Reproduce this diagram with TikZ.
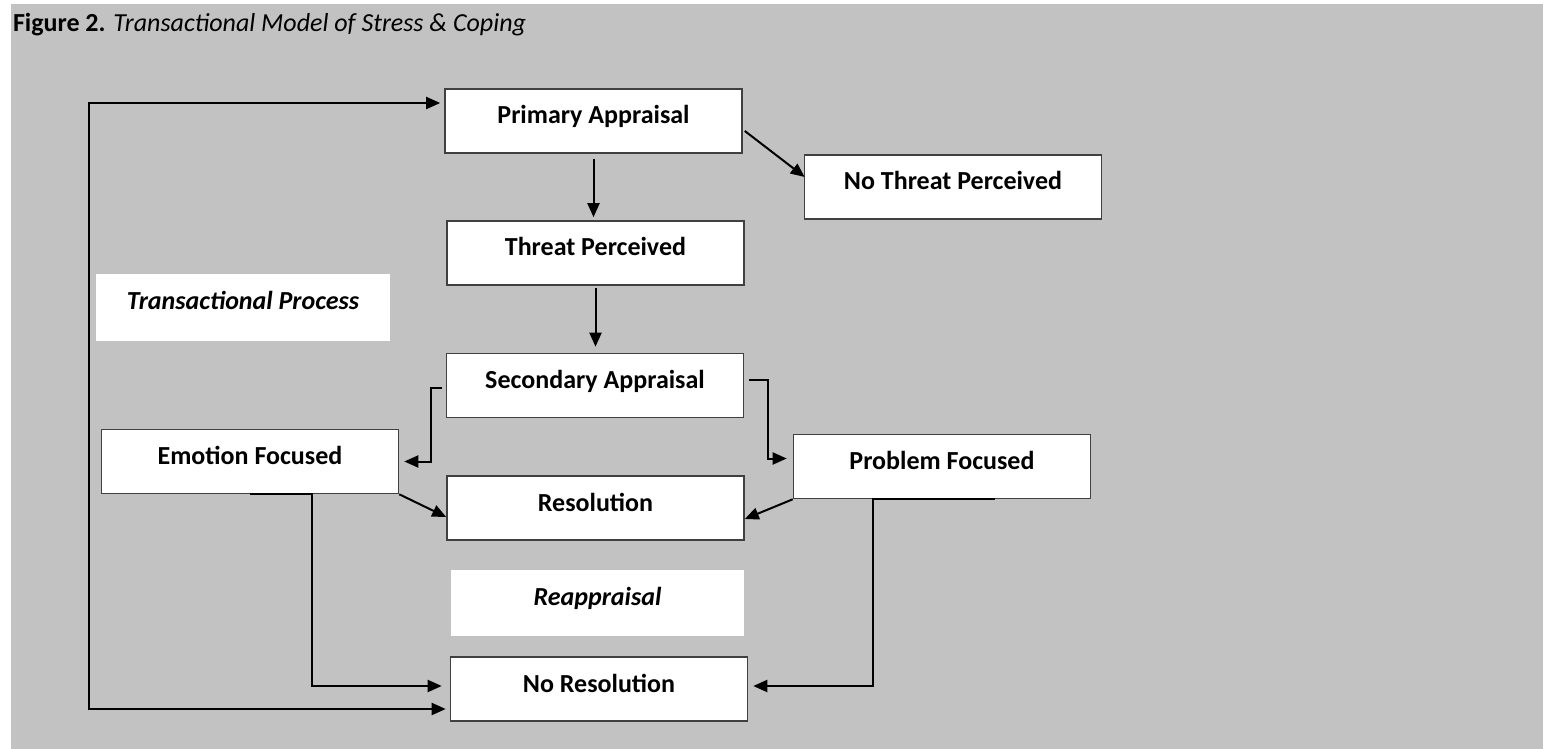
\documentclass[tikz,border=0pt]{standalone}
\usepackage{fontspec}
\setmainfont{Carlito}
\usepackage{xcolor}
\definecolor{panel}{HTML}{C2C2C2}
\usepackage{tikz}
\usetikzlibrary{arrows.meta,calc}
\begin{document}
\begin{tikzpicture}[x=0.5pt,y=-0.5pt,line width=1pt,
    >={Triangle[length=7pt,width=6pt]},
    box/.style={draw=black!75,line width=0.8pt,fill=white,minimum width=148.5pt,minimum height=32pt,
        inner sep=0pt,text height=8pt,text depth=5pt,font=\fontsize{13}{15}\selectfont\bfseries},
    note/.style={fill=white,minimum width=147pt,minimum height=33.5pt,inner sep=0pt,
        text height=8pt,text depth=5.6pt,font=\fontsize{13}{15}\selectfont\bfseries\itshape}]
            \useasboundingbox (0,0) rectangle (1543,749);
            \fill[white] (0,0) rectangle (1543,749);
            \fill[panel] (11,4) rectangle (1543,749);
            \node[anchor=base west,inner sep=0pt,font=\fontsize{13}{15}\selectfont] (0) at (12,32) {\textbf{Figure 2.} \textit{Transactional Model of Stress \& Coping}};
            \node[box] (1) at (593.5,121) {Primary Appraisal};
            \node[box] (2) at (953,187) {No Threat Perceived};
            \node[box] (3) at (595.5,253) {Threat Perceived};
            \node[note] (4) at (243,307.5) {Transactional Process};
            \node[box] (5) at (595,385.5) {Secondary Appraisal};
            \node[box] (6) at (250,461.5) {Emotion Focused};
            \node[box] (7) at (942,466.5) {Problem Focused};
            \node[box] (8) at (595.5,508) {Resolution};
            \node[note,minimum width=146.5pt,minimum height=33pt] (9) at (597.5,603) {Reappraisal};
            \node[box] (10) at (599,689) {No Resolution};
            \coordinate (l) at (89,400);
            \draw[->] ([yshift=-2.5pt]1.south) -- ([yshift=1.5pt]1.south |- 3.north);
            \draw[->] ([xshift=1pt,yshift=-5pt]1.east) -- ([xshift=0.5pt,yshift=5pt]2.west);
            \draw[->] ([yshift=-1pt]3.south) -- ([yshift=3pt]3.south |- 5.north);
            \draw[->] ([xshift=-2pt,yshift=-1pt]5.west) -- ++(-11,0) |- ([xshift=2.5pt]6.east);
            \draw[->] ([xshift=2.5pt,yshift=3pt]5.east) -- ++(19,0) |- ([xshift=-3pt,yshift=4pt]7.west);
            \draw[->] (6.south east) -- ([yshift=-4.5pt]8.west);
            \draw[->] (7.south west) -- ([yshift=-5.5pt]8.east);
            \draw[->] (6.south) -- ([xshift=31pt]6.south) |- ([xshift=-4pt,yshift=1.5pt]10.west);
            \draw[->] ([xshift=26.5pt]7.south) -- ([xshift=-34.5pt]7.south) |- ([xshift=2.5pt,yshift=1.5pt]10.east);
            \draw[<->] ([xshift=-2pt,yshift=9pt]1.west) -| (l) |- ([xshift=-2pt,yshift=-10pt]10.west);
        \end{tikzpicture}
\end{document}
